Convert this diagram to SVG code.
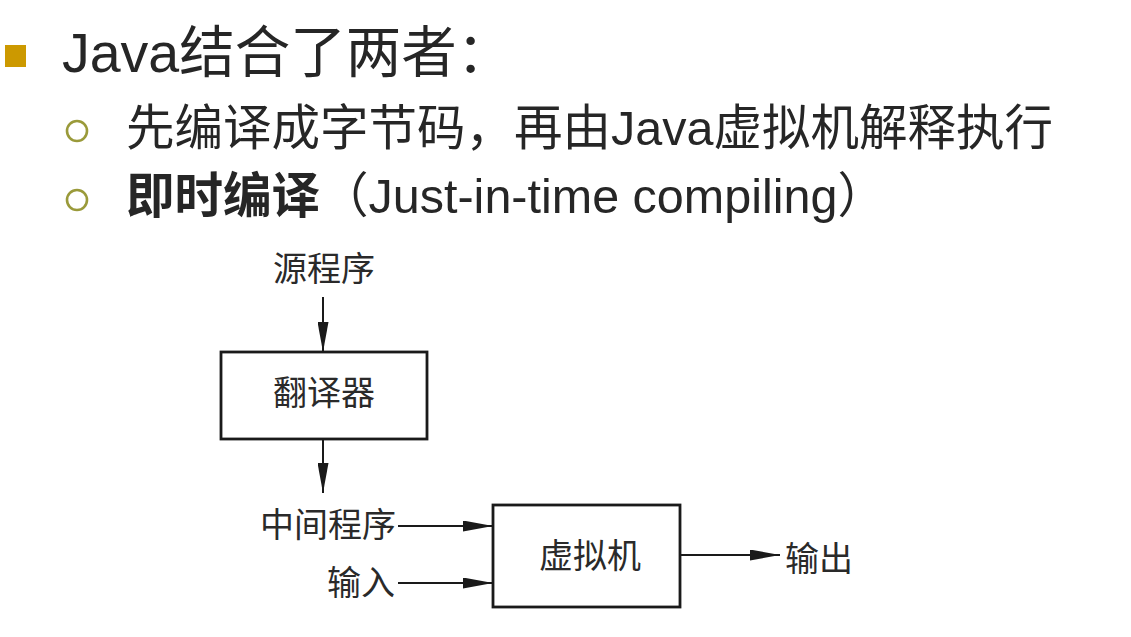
<svg xmlns="http://www.w3.org/2000/svg" width="1131" height="637" viewBox="0 0 1131 637">
<style>
.h{font-family:"Liberation Sans","Noto Sans CJK SC",sans-serif;fill:#262626}
.d{font-family:"Noto Sans CJK SC",sans-serif;font-size:34px;fill:#2a2a2a}
.box{fill:#fff;stroke:#1a1a1a;stroke-width:2.8}
.ln{stroke:#1a1a1a;stroke-width:2;fill:none;marker-end:url(#ah)}
.cb{fill:none;stroke:#9a9a3a;stroke-width:2.6}
</style>
<defs>
<marker id="ah" markerUnits="userSpaceOnUse" markerWidth="30" markerHeight="11" refX="30" refY="5.5" orient="auto">
<path d="M0,0 L30,5.5 L0,11 z" fill="#1a1a1a"/>
</marker>
</defs>
<rect width="1131" height="637" fill="#fff"/>
<g id="heading">
<rect x="5" y="45" width="21" height="22" fill="#cc9900"/>
<text class="h" x="62" y="72" font-size="55.5">Java结合了两者：</text>
<circle class="cb" cx="77" cy="131" r="10"/>
<text class="h" x="126" y="145" font-size="48.5">先编译成字节码，再由Java虚拟机解释执行</text>
<circle class="cb" cx="77" cy="200" r="10"/>
<text class="h" x="126" y="213" font-size="48.5"><tspan font-weight="bold">即时编译</tspan>（Just-in-time compiling）</text>
</g>
<g id="src"><text class="d" x="324" y="281" text-anchor="middle">源程序</text></g>
<g id="translator">
<rect class="box" x="221" y="352" width="206" height="87"/>
<text class="d" x="324" y="405" text-anchor="middle">翻译器</text>
</g>
<g id="mid"><text class="d" x="396" y="537" text-anchor="end">中间程序</text></g>
<g id="input"><text class="d" x="395" y="595" text-anchor="end">输入</text></g>
<g id="vm">
<rect class="box" x="493" y="505" width="187" height="102"/>
<text class="d" x="590" y="568" text-anchor="middle">虚拟机</text>
</g>
<g id="output"><text class="d" x="785" y="571">输出</text></g>
<g id="connectors">
<line class="ln" x1="323" y1="297" x2="323" y2="352"/>
<line class="ln" x1="323" y1="439" x2="323" y2="493"/>
<line class="ln" x1="398" y1="526" x2="493" y2="526"/>
<line class="ln" x1="398" y1="583" x2="493" y2="583"/>
<line class="ln" x1="680" y1="555" x2="780" y2="555"/>
</g>
</svg>
